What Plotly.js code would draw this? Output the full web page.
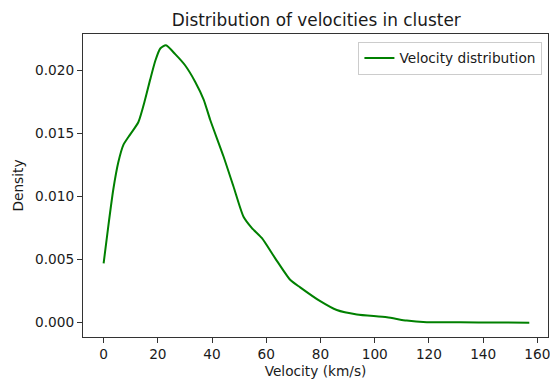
<!DOCTYPE html>
<html>
<head>
<meta charset="utf-8">
<script src="https://cdn.plot.ly/plotly-3.0.1.min.js"></script>
<style>html,body{margin:0;padding:0;background:#fff;}#chart{width:550px;height:380px;}</style>
</head>
<body>
<div id="chart"></div>
<script>
const velocity = [0, 1.7, 3.6, 5.4, 7.3, 9.7, 12.8, 15.3, 17.2, 19.1, 20.9, 23.0, 26.4, 30.1, 33.8, 36.9, 39.3, 44.2, 47.9, 51.6, 54.7, 58.4, 63.3, 68.8, 72.5, 79.9, 86.0, 93.4, 104.5, 111.8, 119.2, 131.5, 145, 157];
const density = [0.0047, 0.0076, 0.0106, 0.0127, 0.0141, 0.0149, 0.0159, 0.0177, 0.0193, 0.0208, 0.02175, 0.0220, 0.0213, 0.0204, 0.0191, 0.0177, 0.0161, 0.0132, 0.0108, 0.0084, 0.0075, 0.0067, 0.0051, 0.0034, 0.0028, 0.0017, 0.0010, 0.00065, 0.00043, 0.00016, 0.00004, 0.00003, 0.00001, 0.0];
const xTicks = [0, 20, 40, 60, 80, 100, 120, 140, 160];
const yTicks = [0.000, 0.005, 0.010, 0.015, 0.020];
const yTickText = ["0.000", "0.005", "0.010", "0.015", "0.020"];
const seriesName = "Velocity distribution";

const font = {family: "DejaVu Sans", size: 13.7, color: "#1a1a1a"};
const axisCommon = {
  showline: true, mirror: true, linecolor: "#333", linewidth: 1,
  ticks: "outside", ticklen: 5, tickwidth: 1, tickcolor: "#333",
  showgrid: false, zeroline: false, tickfont: font, ticklabeloverflow: "allow"
};
Plotly.newPlot("chart", [{
  x: velocity, y: density, type: "scatter", mode: "lines",
  name: seriesName,
  line: {color: "#008000", width: 2, shape: "spline", smoothing: 0.6}
}], {
  width: 550, height: 380,
  margin: {l: 83, r: 2, t: 34, b: 43},
  paper_bgcolor: "#fff", plot_bgcolor: "#fff",
  font: font,
  title: {text: "Distribution of velocities in cluster", font: {family: "DejaVu Sans", size: 16.9, color: "#1a1a1a"}, x: 0.575, xanchor: "center", y: 0.947, yanchor: "middle"},
  xaxis: Object.assign({}, axisCommon, {
    range: [-7.6, 163.9], tickvals: xTicks, ticktext: xTicks.map(String),
    title: {text: "Velocity (km/s)", font: font, standoff: 4}
  }),
  yaxis: Object.assign({}, axisCommon, {
    range: [-0.00114, 0.0229], tickvals: yTicks, ticktext: yTickText,
    title: {text: "Density", font: font, standoff: 8}
  }),
  showlegend: true,
  legend: {x: 0.988, xanchor: "right", y: 0.975, yanchor: "top",
    bordercolor: "#ccc", borderwidth: 1, bgcolor: "rgba(255,255,255,0.8)",
    font: font, itemwidth: 30, tracegroupgap: 0}
}, {staticPlot: true, displayModeBar: false});
</script>
</body>
</html>
